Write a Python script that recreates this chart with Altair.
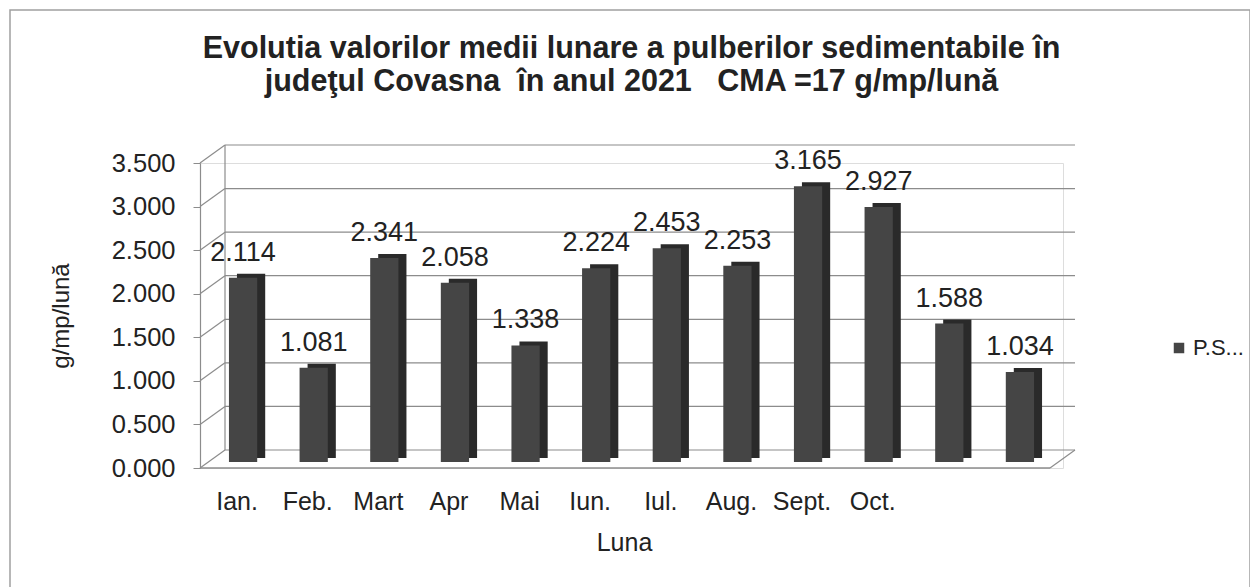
import json
import altair as alt
import pandas as pd

# ---------------- data ----------------
month_idx = list(range(12))
x_labels = ["Ian.", "Feb.", "Mart", "Apr", "Mai", "Iun.", "Iul.", "Aug.", "Sept.", "Oct.", "", ""]
values = [2.114, 1.081, 2.341, 2.058, 1.338, 2.224, 2.453, 2.253, 3.165, 2.927, 1.588, 1.034]
series_name = "P.S..."
y_ticks = [0.0, 0.5, 1.0, 1.5, 2.0, 2.5, 3.0, 3.5]

title_lines = [
    "Evolutia valorilor medii lunare a pulberilor sedimentabile în",
    "judeţul Covasna\u00a0 în anul 2021\u00a0\u00a0 CMA =17 g/mp/lună",
]
x_title = "Luna"
y_title = "g/mp/lună"

# ---------------- style ----------------
FONT = "Liberation Sans"
TXT = "#222222"
GRID = "#8c8c8c"
W, H = 863, 305
DX, DY = 25, -18          # depth of the pseudo-3D back wall
BAR_SHIFT = -6            # bars stand slightly behind the front axis

bars = pd.DataFrame({"idx": month_idx, "val": values,
                     "series": [series_name] * len(values)})
ticks_df = pd.DataFrame({"v": y_ticks})
edge_df = pd.DataFrame({"lo": [y_ticks[0]], "hi": [y_ticks[-1]]})

yscale = alt.Scale(domain=[y_ticks[0], y_ticks[-1]], nice=False, zero=True)
yaxis = alt.Axis(title=y_title, values=y_ticks, format=".3f", grid=False,
                 domainColor=GRID, domainWidth=1.2, tickColor=GRID, tickSize=7,
                 labelPadding=18, labelFont=FONT, labelFontSize=25.5, labelColor=TXT,
                 titleFont=FONT, titleFontSize=24, titleFontWeight="normal",
                 titleColor=TXT, titlePadding=38)

xscale = alt.Scale(paddingInner=0.6, paddingOuter=0.41)
xaxis = alt.Axis(title=x_title, labelExpr=f"{json.dumps(x_labels)}[datum.value]",
                 labelAngle=0, labelOverlap=False, domain=False, ticks=False, tickSize=0,
                 labelPadding=21, labelOffset=-6, labelFont=FONT, labelFontSize=25,
                 labelColor=TXT, titleFont=FONT, titleFontSize=25,
                 titleFontWeight="normal", titleColor=TXT, titlePadding=16, titleX=424)

Y = lambda f: alt.Y(f, scale=yscale, axis=yaxis)
X = alt.X("idx:O", scale=xscale, axis=xaxis)

frame = alt.Chart(edge_df).mark_rect(fill="transparent", stroke="#a0a0a0", strokeWidth=1.5).encode(
    x=alt.value(-190), x2=alt.value(W + 187), y=alt.value(-153), y2=alt.value(H + 140))

back = alt.Chart(ticks_df).mark_rule(color=GRID, strokeWidth=1.2, yOffset=DY).encode(
    x=alt.value(DX), x2=alt.value(W + 12), y=Y("v:Q"))
conn = alt.Chart(ticks_df).mark_rule(color=GRID, strokeWidth=1.2, y2Offset=DY).encode(
    x=alt.value(0), x2=alt.value(DX), y=Y("v:Q"), y2="v:Q")
wall = alt.Chart(edge_df).mark_rule(color=GRID, strokeWidth=1.2, yOffset=DY, y2Offset=DY).encode(
    x=alt.value(DX), y=Y("lo:Q"), y2="hi:Q")
floor_front = alt.Chart(edge_df).mark_rule(color=GRID, strokeWidth=1.4).encode(
    x=alt.value(0), x2=alt.value(W - 13), y=Y("lo:Q"))
floor_side = alt.Chart(edge_df).mark_rule(color=GRID, strokeWidth=1.2, y2Offset=DY).encode(
    x=alt.value(W - 13), x2=alt.value(W + 12), y=Y("lo:Q"), y2="lo:Q")

side = alt.Chart(bars).mark_bar(color="#2a2a2a", xOffset=8, x2Offset=8,
                                yOffset=BAR_SHIFT - 4, y2Offset=BAR_SHIFT - 4).encode(
    x=X, y=Y("val:Q"))
front = alt.Chart(bars).mark_bar(yOffset=BAR_SHIFT, y2Offset=BAR_SHIFT).encode(
    x=X, y=Y("val:Q"),
    color=alt.Color("series:N", scale=alt.Scale(range=["#454545"]),
                    legend=alt.Legend(orient="none", legendX=968, legendY=174, title=None,
                                      symbolType="square", symbolSize=110, symbolStrokeWidth=0,
                                      labelFont=FONT, labelFontSize=22, labelColor=TXT,
                                      labelOffset=3, padding=0)))
labels = alt.Chart(bars).mark_text(dy=BAR_SHIFT - 17, baseline="alphabetic", fontSize=27,
                                   font=FONT, color=TXT).encode(
    x=X, y=Y("val:Q"), text=alt.Text("val:Q", format=".3f"))

chart = alt.layer(frame, back, conn, wall, floor_front, floor_side, side, front, labels).properties(
    width=W, height=H,
    autosize=alt.AutoSizeParams(type="none"),
    padding={"left": 192, "top": 155, "right": 187, "bottom": 119},
    title=alt.Title(title_lines, font=FONT, fontSize=30.5, fontWeight="bold", color=TXT,
                    lineHeight=33, anchor="middle", offset=50, dy=138),
).configure_view(stroke=None).configure(background="white")

chart.save("out.html", embed_options={"renderer": "svg", "actions": False})
